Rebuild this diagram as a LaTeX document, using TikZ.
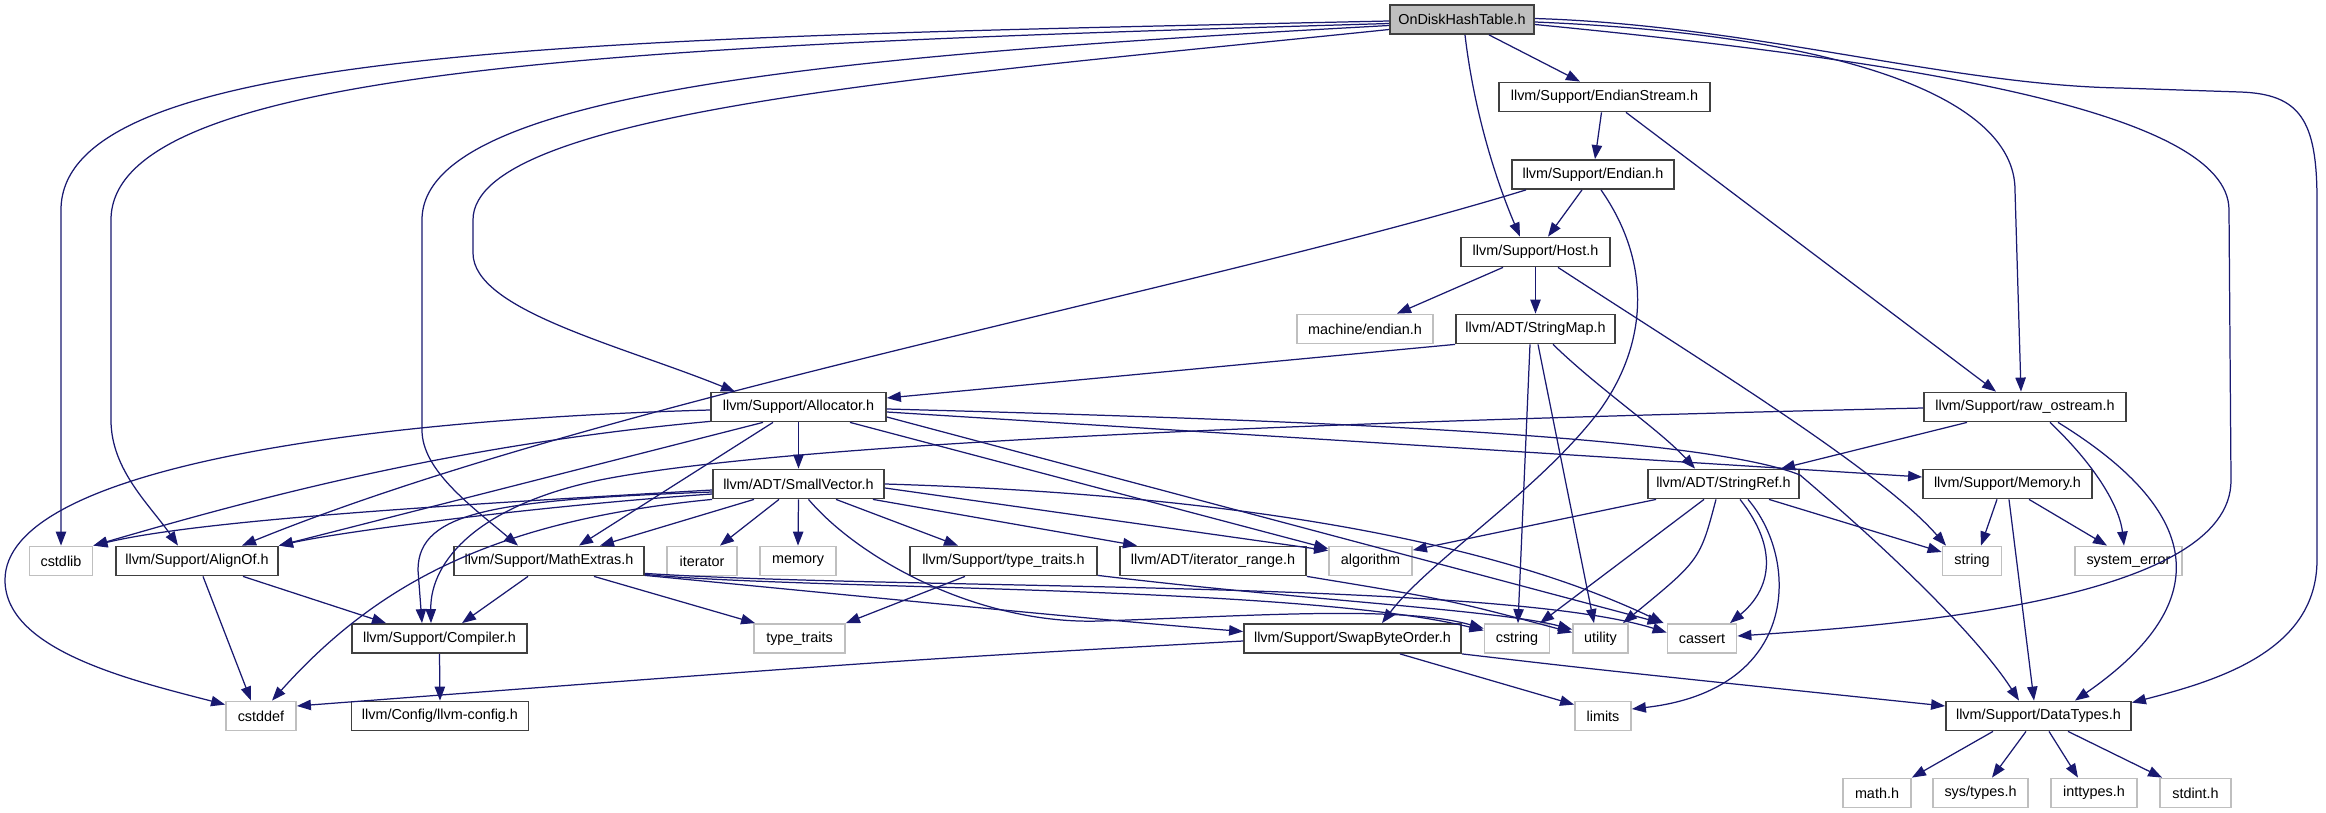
\documentclass[tikz,border=0pt]{standalone}
\usepackage{fontspec}
\setmainfont{Liberation Sans}
\usetikzlibrary{arrows.meta,calc}
\definecolor{edgec}{HTML}{191970}
\definecolor{sysgray}{HTML}{BFBFBF}
\definecolor{hdrgray}{HTML}{404040}
\begin{document}
\begin{tikzpicture}[x=0.5pt,y=-0.5pt,
  hdr/.style={draw=hdrgray, line width=0.9pt, fill=white, inner sep=0pt,
    minimum height=14.5pt, font=\fontsize{7.2}{8}\selectfont},
  sys/.style={hdr, draw=sysgray},
  root/.style={hdr, fill=sysgray},
  dep/.style={draw=edgec, line width=0.62pt, -{Triangle[length=7pt,width=5.2pt]}}]
\useasboundingbox (0,0) rectangle (2326,813);
% nodes
\node[root, minimum width=72pt] (ondisk) at (1462,19.5) {OnDiskHashTable.h};
\node[hdr, minimum width=105.5pt] (es) at (1604.5,97) {llvm/Support/EndianStream.h};
\node[hdr, minimum width=81pt] (endian) at (1593,174.5) {llvm/Support/Endian.h};
\node[hdr, minimum width=74.5pt] (host) at (1535.5,252) {llvm/Support/Host.h};
\node[sys, minimum width=68pt] (mend) at (1365,329) {machine/endian.h};
\node[hdr, minimum width=79.5pt] (smap) at (1535.5,329) {llvm/ADT/StringMap.h};
\node[hdr, minimum width=87.5pt] (alloc) at (798.5,407) {llvm/Support/Allocator.h};
\node[hdr, minimum width=101pt] (rawos) at (2025,407) {llvm/Support/raw\_ostream.h};
\node[hdr, minimum width=85.5pt] (svec) at (798.5,484) {llvm/ADT/SmallVector.h};
\node[hdr, minimum width=75.5pt] (sref) at (1723.5,484) {llvm/ADT/StringRef.h};
\node[hdr, minimum width=84.5pt] (memh) at (2007.5,484) {llvm/Support/Memory.h};
\node[sys, minimum width=31.5pt] (cstdlib) at (61,561) {cstdlib};
\node[hdr, minimum width=81pt] (alignof) at (197,561) {llvm/Support/AlignOf.h};
\node[hdr, minimum width=95pt] (mathx) at (549,561) {llvm/Support/MathExtras.h};
\node[sys, minimum width=35pt] (iterator) at (702,561) {iterator};
\node[sys, minimum width=38pt] (memory) at (798,561) {memory};
\node[hdr, minimum width=93.5pt] (tth) at (1003.5,561) {llvm/Support/type\_traits.h};
\node[hdr, minimum width=93pt] (itr) at (1213,561) {llvm/ADT/iterator\_range.h};
\node[sys, minimum width=41.5pt] (algorithm) at (1370.5,561) {algorithm};
\node[sys, minimum width=29.5pt] (string) at (1972,561) {string};
\node[sys, minimum width=53.5pt] (syserr) at (2128.5,561) {system\_error};
\node[hdr, minimum width=87.5pt] (compiler) at (439.5,638.5) {llvm/Support/Compiler.h};
\node[sys, minimum width=45.5pt] (tt) at (799.5,638.5) {type\_traits};
\node[hdr, minimum width=108.5pt] (sbo) at (1352.5,638.5) {llvm/Support/SwapByteOrder.h};
\node[sys, minimum width=32.5pt] (cstring) at (1517,638.5) {cstring};
\node[sys, minimum width=27.5pt] (utility) at (1600.5,638.5) {utility};
\node[sys, minimum width=34.5pt] (cassert) at (1702,638.5) {cassert};
\node[sys, minimum width=35pt] (cstddef) at (261,716) {cstddef};
\node[hdr, minimum width=88.5pt] (cfg) at (440,716) {llvm/Config/llvm-config.h};
\node[sys, minimum width=28pt] (limits) at (1603,716) {limits};
\node[hdr, minimum width=92.5pt] (dt) at (2038.5,716) {llvm/Support/DataTypes.h};
\node[sys, minimum width=34pt] (math) at (1877,793) {math.h};
\node[sys, minimum width=47.5pt] (systypes) at (1980.5,793) {sys/types.h};
\node[sys, minimum width=43pt] (inttypes) at (2094,793) {inttypes.h};
\node[sys, minimum width=35.5pt] (stdint) at (2195.5,793) {stdint.h};
% OnDiskHashTable.h
\draw[dep] ($(ondisk.west)+(0,1.5)$) .. controls (600,38) and (61,45) .. (61,210) -- (cstdlib.north);
\draw[dep] ($(ondisk.west)+(0,4)$) .. controls (650,45) and (111,65) .. (111,220) -- (111,420) .. controls (111,470) and (150,505) .. ($(alignof.north)+(-19,0)$);
\draw[dep] ($(ondisk.west)+(0,6)$) .. controls (850,55) and (422,90) .. (422,220) -- (422,430) .. controls (422,470) and (470,505) .. ($(mathx.north)+(-31,0)$);
\draw[dep] ($(ondisk.west)+(0,10)$) .. controls (950,75) and (473,110) .. (473,220) -- (473,253) .. controls (473,310) and (620,345) .. ($(alloc.north)+(-63.5,0)$);
\draw[dep] ($(ondisk.south)+(27,0)$) -- ($(es.north)+(-24.5,0)$);
\draw[dep] ($(ondisk.south)+(3,0)$) .. controls (1475,120) and (1500,190) .. ($(host.north)+(-15.5,0)$);
\draw[dep] ($(ondisk.east)+(0,2.5)$) .. controls (1850,35) and (2015,100) .. (2015,190) -- ($(rawos.north)+(-4,0)$);
\draw[dep] ($(ondisk.east)+(0,5)$) .. controls (1900,60) and (2229,110) .. (2229,210) -- (2231,480) .. controls (2232,600) and (1900,625) .. ($(cassert.east)+(0,-2.5)$);
\draw[dep] ($(ondisk.east)+(0,-1)$) .. controls (1750,25) and (1950,85) .. (2120,88) -- (2240,92) .. controls (2300,94) and (2317,120) .. (2317,200) -- (2317,560) .. controls (2317,650) and (2220,680) .. ($(dt.north east)+(0,2)$);
% EndianStream
\draw[dep] ($(es.south)+(-3,0)$) -- ($(endian.north)+(2,0)$);
\draw[dep] ($(es.south)+(21.5,0)$) -- ($(rawos.north)+(-29,0)$);
% Endian
\draw[dep] ($(endian.south)+(-11,0)$) -- ($(host.north)+(12.5,0)$);
\draw[dep] ($(endian.south)+(-67,0)$) .. controls (1200,290) and (600,400) .. ($(alignof.north)+(45,0)$);
\draw[dep] ($(endian.south)+(8,0)$) .. controls (1650,260) and (1650,340) .. (1600,410) .. controls (1540,490) and (1430,560) .. ($(sbo.north)+(29.5,0)$);
% Host
\draw[dep] ($(host.south)+(-32.5,0)$) -- ($(mend.north)+(32,0)$);
\draw[dep] (host.south) -- (smap.north);
\draw[dep] ($(host.south)+(22.5,0)$) .. controls (1700,360) and (1880,470) .. ($(string.north)+(-26,0)$);
% StringMap
\draw[dep] (smap.south west) -- ($(alloc.east)+(0,-9)$);
\draw[dep] ($(smap.south)+(-5.5,0)$) -- ($(cstring.north)+(1,0)$);
\draw[dep] ($(smap.south)+(2.5,0)$) -- ($(utility.north)+(-6.5,0)$);
\draw[dep] ($(smap.south)+(17.5,0)$) .. controls (1600,390) and (1660,430) .. ($(sref.north)+(-28.5,0)$);
% Allocator
\draw[dep] (alloc.south) -- (svec.north);
\draw[dep] ($(alloc.west)+(0,3)$) .. controls (350,420) and (5,470) .. (5,580) .. controls (5,650) and (130,680) .. ($(cstddef.north west)+(0,4)$);
\draw[dep] ($(alloc.south west)+(0,-1)$) .. controls (450,445) and (250,500) .. (cstdlib.north east);
\draw[dep] ($(alloc.south)+(-35.5,0)$) -- (alignof.north east);
\draw[dep] ($(alloc.south)+(-25.5,0)$) -- ($(mathx.north)+(30,0)$);
\draw[dep] ($(alloc.south)+(51.5,0)$) -- ($(algorithm.north west)+(0,3)$);
\draw[dep] ($(alloc.east)+(0,10)$) -- ($(cassert.north west)+(-5,0)$);
\draw[dep] ($(alloc.east)+(0,5)$) -- ($(memh.west)+(0,-7)$);
\draw[dep] ($(alloc.east)+(0,2)$) .. controls (1300,420) and (1700,435) .. (1800,475) .. controls (1900,560) and (1980,640) .. ($(dt.north)+(-19.5,0)$);
% SmallVector
\draw[dep] ($(svec.west)+(0,6)$) .. controls (450,505) and (200,520) .. (cstdlib.north east);
\draw[dep] ($(svec.west)+(0,10)$) .. controls (550,505) and (350,530) .. (alignof.north east);
\draw[dep] ($(svec.west)+(0,8)$) .. controls (500,500) and (418,510) .. (418,570) -- ($(compiler.north)+(-17.5,0)$);
\draw[dep] (svec.south west) .. controls (500,520) and (380,580) .. ($(cstddef.north)+(11,0)$);
\draw[dep] ($(svec.south)+(-44.5,0)$) -- ($(mathx.north)+(51,0)$);
\draw[dep] ($(svec.south)+(-19.5,0)$) -- ($(iterator.north)+(18,0)$);
\draw[dep] (svec.south) -- (memory.north);
\draw[dep] ($(svec.south)+(37.5,0)$) -- ($(tth.north)+(-45.5,0)$);
\draw[dep] ($(svec.south east)+(-12,0)$) -- ($(itr.north)+(-76,0)$);
\draw[dep] ($(svec.east)+(0,4)$) -- ($(algorithm.north west)+(0,5)$);
\draw[dep] (svec.east) .. controls (1250,495) and (1500,545) .. ($(cassert.north west)+(-3,0)$);
\draw[dep] ($(svec.south)+(10,0)$) .. controls (860,560) and (980,625) .. (1100,621) .. controls (1250,616) and (1400,605) .. ($(cstring.west)+(0,-10)$);
% MathExtras
\draw[dep] ($(mathx.south)+(-21,0)$) -- ($(compiler.north)+(22.5,0)$);
\draw[dep] ($(mathx.south)+(45,0)$) -- ($(tt.north west)+(2,0)$);
\draw[dep] ($(mathx.south east)+(0,-1)$) .. controls (900,600) and (1100,620) .. ($(sbo.west)+(0,-7)$);
\draw[dep] ($(mathx.south east)+(0,-2)$) .. controls (800,590) and (1300,585) .. ($(cstring.west)+(0,-8)$);
\draw[dep] ($(mathx.south east)+(0,-3)$) .. controls (900,590) and (1500,580) .. ($(cassert.west)+(0,-6)$);
% StringRef
\draw[dep] ($(sref.south west)+(9,0)$) -- ($(algorithm.north east)+(0,4.5)$);
\draw[dep] ($(sref.south)+(-19.5,0)$) -- ($(cstring.north)+(23,0)$);
\draw[dep] ($(sref.south)+(-7.5,0)$) .. controls (1700,560) .. ($(utility.north)+(22.5,0)$);
\draw[dep] ($(sref.south)+(16.5,0)$) .. controls (1780,550) and (1770,590) .. ($(cassert.north)+(28,0)$);
\draw[dep] ($(sref.south)+(24.5,0)$) .. controls (1800,560) and (1800,690) .. ($(limits.east)+(0,-7)$);
\draw[dep] ($(sref.south)+(45.5,0)$) -- ($(string.west)+(0,-9)$);
% raw_ostream
\draw[dep] ($(rawos.south)+(-58,0)$) -- ($(sref.north)+(57.5,0)$);
\draw[dep] ($(rawos.south)+(25,0)$) .. controls (2100,470) and (2120,510) .. ($(syserr.north)+(-4.5,0)$);
\draw[dep] ($(rawos.south)+(33,0)$) .. controls (2200,510) and (2220,600) .. ($(dt.north)+(36.5,0)$);
\draw[dep] ($(rawos.west)+(0,1)$) .. controls (1400,420) and (800,440) .. (600,480) .. controls (480,505) and (430,560) .. ($(compiler.north)+(-8.5,0)$);
% Memory
\draw[dep] ($(memh.south)+(-10.5,0)$) -- ($(string.north)+(9,0)$);
\draw[dep] ($(memh.south)+(1.5,0)$) -- ($(dt.north)+(-4.5,0)$);
\draw[dep] ($(memh.south)+(21.5,0)$) -- ($(syserr.north)+(-21.5,0)$);
% type_traits.h, iterator_range.h
\draw[dep] ($(tth.south)+(-38.5,0)$) -- (tt.north east);
\draw[dep] ($(tth.south east)+(0,-1)$) .. controls (1300,600) and (1500,610) .. ($(utility.west)+(0,-9)$);
\draw[dep] (itr.south east) .. controls (1450,600) .. ($(utility.west)+(0,-6)$);
% AlignOf, Compiler
\draw[dep] ($(alignof.south)+(6,0)$) -- ($(cstddef.north)+(-10,0)$);
\draw[dep] ($(alignof.south)+(46,0)$) -- ($(compiler.north)+(-53.5,0)$);
\draw[dep] (compiler.south) -- (cfg.north);
% SwapByteOrder
\draw[dep] ($(sbo.west)+(0,2.5)$) .. controls (900,660) .. ($(cstddef.east)+(0,-10)$);
\draw[dep] ($(sbo.south)+(47.5,0)$) -- ($(limits.north west)+(0,4)$);
\draw[dep] (sbo.south east) .. controls (1600,670) .. ($(dt.west)+(0,-10)$);
% DataTypes
\draw[dep] ($(dt.south)+(-45.5,0)$) -- (math.north east);
\draw[dep] ($(dt.south)+(-12.5,0)$) -- ($(systypes.north)+(11.5,0)$);
\draw[dep] ($(dt.south)+(10.5,0)$) -- ($(inttypes.north)+(-16,0)$);
\draw[dep] ($(dt.south)+(29.5,0)$) -- ($(stdint.north west)+(3,0)$);
\end{tikzpicture}
\end{document}
